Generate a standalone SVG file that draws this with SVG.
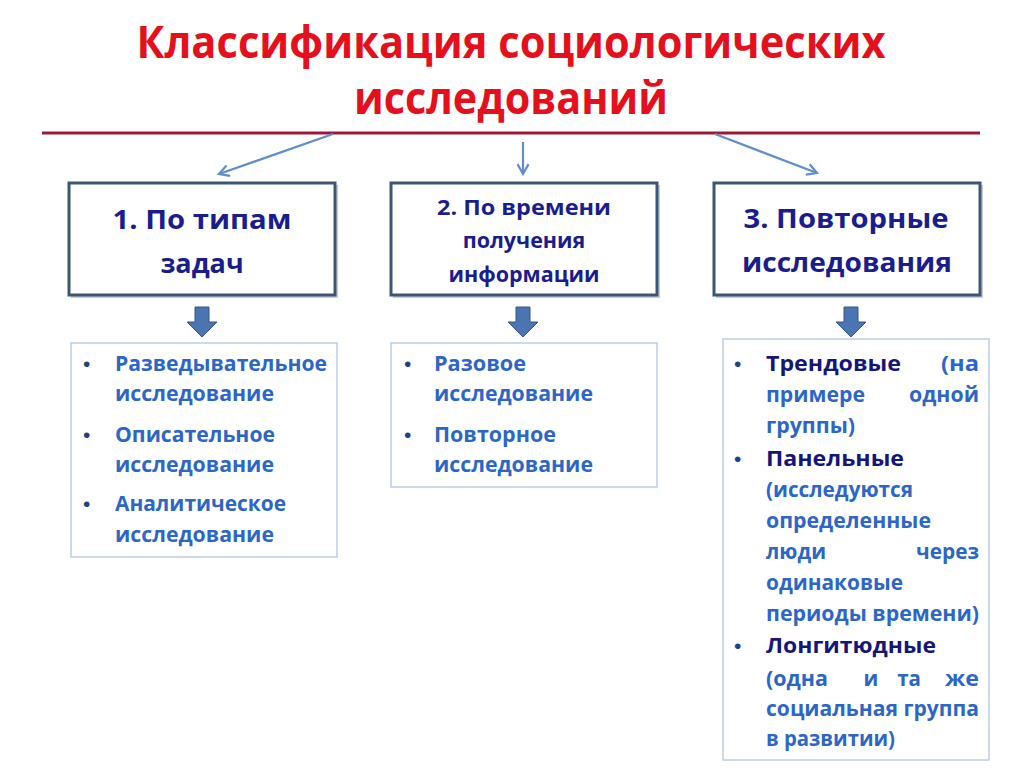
<svg xmlns="http://www.w3.org/2000/svg" width="1024" height="768" viewBox="0 0 1024 768">
<style>
.title{font-family:"Open Sans","Liberation Sans",sans-serif;font-weight:bold;font-size:45px;fill:#E5101C}
.hbox{fill:#FFFFFF;stroke:#3D5674;stroke-width:3}
.hshadow{fill:#C9CDD3}
.ht{font-family:"Open Sans","Liberation Sans",sans-serif;font-weight:bold;fill:#1A1D8E;text-anchor:middle}
.lbox{fill:#FFFFFF;stroke:#A9C0DE;stroke-width:1.2}
.bt{font-family:"Open Sans","Liberation Sans",sans-serif;font-weight:bold;font-size:20.5px;fill:#2C66C8}
.bd{fill:#15167A}
.bul{font-family:"Liberation Sans",sans-serif;font-size:21px;fill:#1E3F8A}
.conn{stroke:#5F8FCB;stroke-width:2.2;fill:none}
.blk{fill:#4A74B2;stroke:#34578E;stroke-width:1}
</style>
<defs>
<marker id="ah" viewBox="0 0 12 12" refX="10" refY="6" markerWidth="6" markerHeight="6" orient="auto" markerUnits="strokeWidth">
<path d="M1,1 L10,6 L1,11" fill="none" stroke="#5F8FCB" stroke-width="2"/>
</marker>
</defs>
<rect x="0" y="0" width="1024" height="768" fill="#FFFFFF"/>

<g id="title">
<text class="title" x="511" y="58" text-anchor="middle" textLength="749" lengthAdjust="spacingAndGlyphs">Классификация  социологических</text>
<text class="title" x="511" y="114" text-anchor="middle" textLength="314" lengthAdjust="spacingAndGlyphs">исследований</text>
<line x1="42" y1="133" x2="980" y2="133" stroke="#9E1836" stroke-width="3"/>
</g>

<g id="connectors">
<line class="conn" x1="333" y1="134" x2="219" y2="174" marker-end="url(#ah)"/>
<line class="conn" x1="523" y1="142" x2="523" y2="174" marker-end="url(#ah)"/>
<line class="conn" x1="715" y1="134" x2="817" y2="173" marker-end="url(#ah)"/>
<path class="blk" d="M195,307 H209 V322 H217 L202,337 L187,322 H195 Z"/>
<path class="blk" d="M516,307 H530 V322 H538 L523,337 L508,322 H516 Z"/>
<path class="blk" d="M844,307 H858 V322 H866 L851,337 L836,322 H844 Z"/>
</g>

<g id="node-1">
<rect class="hshadow" x="71" y="185" width="267" height="113"/>
<rect class="hbox" x="69" y="183" width="266" height="112"/>
<text class="ht" x="202" y="229" font-size="27" textLength="179" lengthAdjust="spacingAndGlyphs">1. По типам</text>
<text class="ht" x="202" y="273" font-size="27">задач</text>
</g>

<g id="node-2">
<rect class="hshadow" x="393" y="185" width="267" height="113"/>
<rect class="hbox" x="391" y="183" width="266" height="112"/>
<text class="ht" x="524" y="215" font-size="21.5" textLength="174" lengthAdjust="spacingAndGlyphs">2. По времени</text>
<text class="ht" x="524" y="248" font-size="21.5">получения</text>
<text class="ht" x="524" y="282" font-size="21.5">информации</text>
</g>

<g id="node-3">
<rect class="hshadow" x="716" y="185" width="267" height="113"/>
<rect class="hbox" x="714" y="183" width="266" height="112"/>
<text class="ht" x="846" y="228" font-size="27" textLength="205" lengthAdjust="spacingAndGlyphs">3. Повторные</text>
<text class="ht" x="847" y="272" font-size="27" textLength="210" lengthAdjust="spacingAndGlyphs">исследования</text>
</g>

<g id="list-1">
<rect class="lbox" x="71" y="343" width="266" height="214"/>
<text class="bul" x="83" y="371">•</text>
<text class="bt" x="115" y="371" textLength="212" lengthAdjust="spacingAndGlyphs">Разведывательное</text>
<text class="bt" x="115" y="401" textLength="159" lengthAdjust="spacingAndGlyphs">исследование</text>
<text class="bul" x="83" y="442">•</text>
<text class="bt" x="115" y="442" textLength="160" lengthAdjust="spacingAndGlyphs">Описательное</text>
<text class="bt" x="115" y="472" textLength="159" lengthAdjust="spacingAndGlyphs">исследование</text>
<text class="bul" x="83" y="511">•</text>
<text class="bt" x="115" y="511" textLength="171" lengthAdjust="spacingAndGlyphs">Аналитическое</text>
<text class="bt" x="115" y="542" textLength="159" lengthAdjust="spacingAndGlyphs">исследование</text>
</g>

<g id="list-2">
<rect class="lbox" x="391" y="343" width="266" height="144"/>
<text class="bul" x="404" y="371">•</text>
<text class="bt" x="434" y="371" textLength="92" lengthAdjust="spacingAndGlyphs">Разовое</text>
<text class="bt" x="434" y="401" textLength="159" lengthAdjust="spacingAndGlyphs">исследование</text>
<text class="bul" x="404" y="442">•</text>
<text class="bt" x="434" y="442" textLength="122" lengthAdjust="spacingAndGlyphs">Повторное</text>
<text class="bt" x="434" y="472" textLength="159" lengthAdjust="spacingAndGlyphs">исследование</text>
</g>

<g id="list-3">
<rect class="lbox" x="723" y="339" width="266" height="421"/>
<text class="bul" x="734" y="371">•</text>
<text class="bt bd" x="766" y="371" textLength="135" lengthAdjust="spacingAndGlyphs">Трендовые</text>
<text class="bt" x="979" y="371" text-anchor="end" textLength="38" lengthAdjust="spacingAndGlyphs">(на</text>
<text class="bt" x="766" y="402" textLength="99" lengthAdjust="spacingAndGlyphs">примере</text>
<text class="bt" x="979" y="402" text-anchor="end" textLength="70" lengthAdjust="spacingAndGlyphs">одной</text>
<text class="bt" x="766" y="433" textLength="89" lengthAdjust="spacingAndGlyphs">группы)</text>
<text class="bul" x="734" y="466">•</text>
<text class="bt bd" x="766" y="466" textLength="138" lengthAdjust="spacingAndGlyphs">Панельные</text>
<text class="bt" x="766" y="497" textLength="147" lengthAdjust="spacingAndGlyphs">(исследуются</text>
<text class="bt" x="766" y="528" textLength="165" lengthAdjust="spacingAndGlyphs">определенные</text>
<text class="bt" x="766" y="559" textLength="60" lengthAdjust="spacingAndGlyphs">люди</text>
<text class="bt" x="979" y="559" text-anchor="end" textLength="63" lengthAdjust="spacingAndGlyphs">через</text>
<text class="bt" x="766" y="590" textLength="137" lengthAdjust="spacingAndGlyphs">одинаковые</text>
<text class="bt" x="766" y="621" textLength="213" lengthAdjust="spacingAndGlyphs">периоды времени)</text>
<text class="bul" x="734" y="653">•</text>
<text class="bt bd" x="766" y="653" textLength="170" lengthAdjust="spacingAndGlyphs">Лонгитюдные</text>
<text class="bt" x="766" y="686" textLength="62" lengthAdjust="spacingAndGlyphs">(одна</text>
<text class="bt" x="871" y="686" text-anchor="middle">и</text>
<text class="bt" x="909" y="686" text-anchor="middle">та</text>
<text class="bt" x="979" y="686" text-anchor="end" textLength="34" lengthAdjust="spacingAndGlyphs">же</text>
<text class="bt" x="766" y="716" textLength="213" lengthAdjust="spacingAndGlyphs">социальная группа</text>
<text class="bt" x="766" y="746" textLength="129" lengthAdjust="spacingAndGlyphs">в развитии)</text>
</g>
</svg>
